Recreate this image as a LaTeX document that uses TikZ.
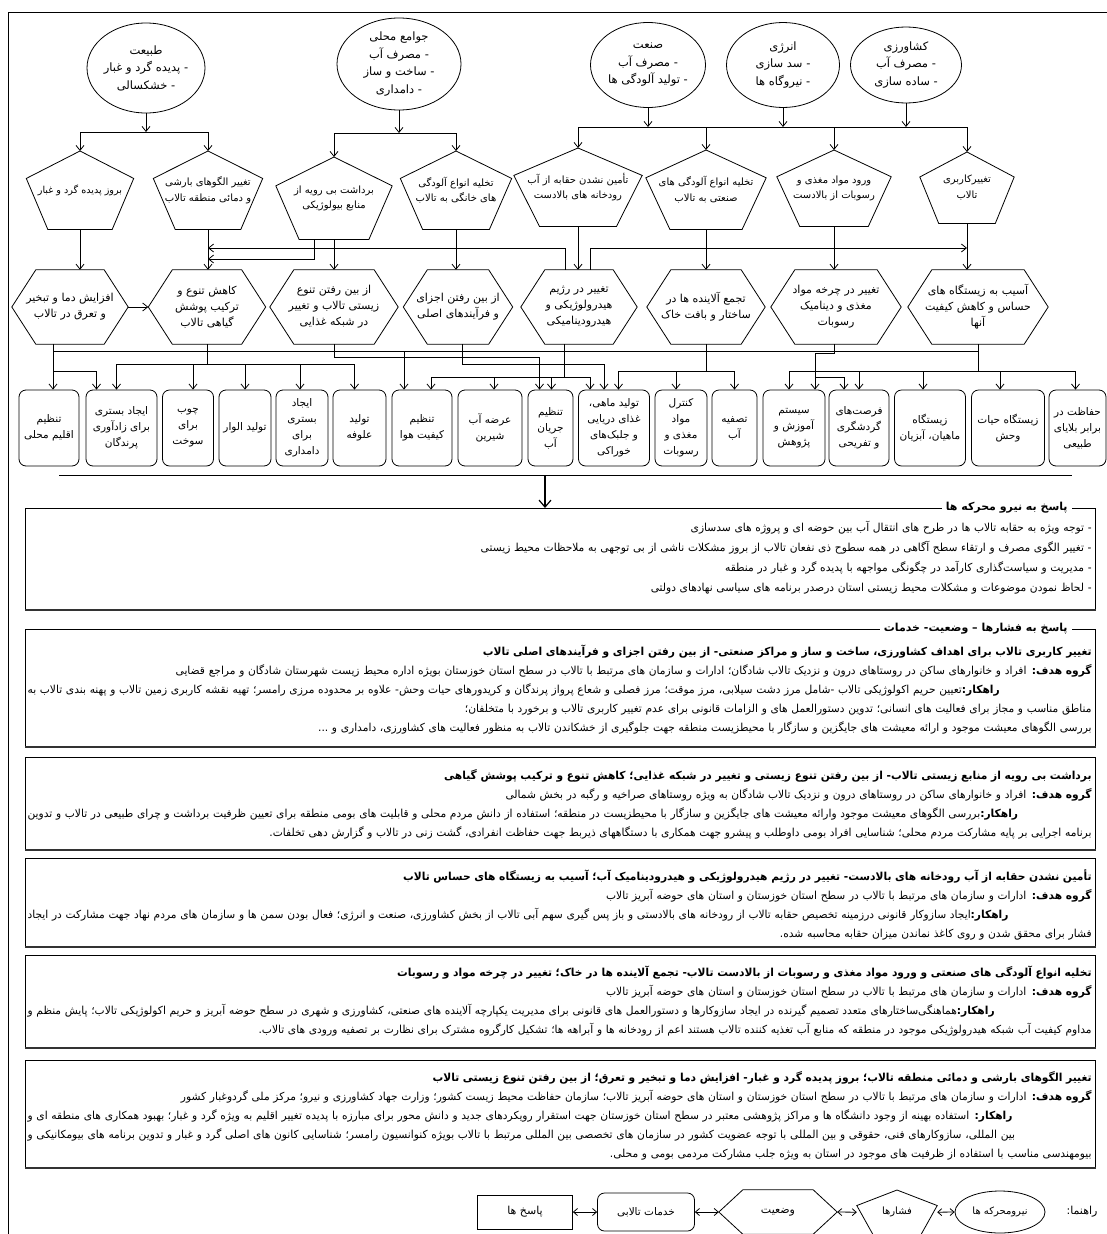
\documentclass[tikz,border=0pt]{standalone}
\usepackage{fontspec}
\usetikzlibrary{shapes.geometric,arrows.meta,calc}
\newfontfamily\fa[Script=Arabic]{DejaVu Sans}
\newfontfamily\fab[Script=Arabic,FakeStretch=0.97]{DejaVu Sans}
\TeXXeTstate=1

\newcommand\rl[1]{\beginR #1\endR}
\newcommand\fl[1]{\leavevmode\hbox to \linewidth{\beginR #1\endR}}

% pentagon: name, x, top y, width, height, text
\newcommand\penta[6]{%
  \node[polytext, pentext, anchor=north, minimum width=#4, minimum height=#5] (#1) at (#2,#3) {#6};
  \draw[shapeline] (#1.north) -- ($(#1.north west)!0.35!(#1.south west)$) -- ($(#1.south west)!0.2!(#1.south east)$)
    -- ($(#1.south east)!0.2!(#1.south west)$) -- ($(#1.north east)!0.35!(#1.south east)$) -- cycle;}
% hexagon: name, x, y, width, height, text
\newcommand\hexa[6]{%
  \node[polytext, minimum width=#4, minimum height=#5] (#1) at (#2,#3) {#6};
  \draw[shapeline] (#1.west) -- ([xshift=24pt]#1.north west) -- ([xshift=-24pt]#1.north east) -- (#1.east)
    -- ([xshift=-24pt]#1.south east) -- ([xshift=24pt]#1.south west) -- cycle;}

\tikzset{
  every node/.style={font=\fa\fontsize{11}{16}\selectfont},
  link/.style={line width=0.8pt},
  shapeline/.style={draw, line width=0.8pt},
  polytext/.style={inner sep=0pt, align=center},
  pentext/.style={font=\fa\fontsize{10}{15.5}\selectfont},
  ell/.style={draw, ellipse, line width=0.8pt, inner sep=0pt},
  elltext/.style={inner sep=0pt, align=center, font=\fa\fontsize{11.5}{17.5}\selectfont},
  svc/.style={draw, line width=0.8pt, rounded corners=7pt, minimum height=76, inner sep=1pt, align=center,
    font=\fa\fontsize{10.5}{16}\selectfont},
  arr/.style={line width=0.8pt, -{Straight Barb[length=5pt,width=8pt]}},
  dblarr/.style={line width=0.8pt, {Straight Barb[length=4pt,width=7pt]}-{Straight Barb[length=4pt,width=7pt]}},
  bigarr/.style={line width=1.8pt, -{Straight Barb[length=7pt,width=12pt,line width=1.2pt]}},
  resp/.style={draw, line width=0.8pt, anchor=north west, minimum width=1070, inner sep=0pt},
  shadowline/.style={line width=1.8pt, black!80},
  resptitle/.style={fill=white, inner xsep=4pt, inner ysep=1pt, anchor=east, font=\fa\bfseries\fontsize{11}{12}\selectfont},
  body/.style={anchor=north east, inner sep=0pt, text width=1064, align=right, font=\fab\fontsize{11}{19}\selectfont}
}

\begin{document}
\begin{tikzpicture}[x=1pt, y=-1pt]
\useasboundingbox (0,0) rectangle (1107,1234);
\draw[link] (8,1234) -- (8,12) -- (1107,12);

% driving forces
\node[ell, minimum width=118, minimum height=90] (e1) at (146,68) {};
\node[elltext] (e1t) at (e1.center) {\rl{طبیعت}\\\rl{- پدیده گرد و غبار}\\\rl{- خشکسالی}};
\node[ell, minimum width=124, minimum height=92] (e2) at (399,64) {};
\node[elltext] (e2t) at (e2.center) {\rl{جوامع محلی}\\\rl{- مصرف آب}\\\rl{- ساخت و ساز}\\\rl{- دامداری}};
\node[ell, minimum width=115, minimum height=85] (e3) at (648,65) {};
\node[elltext] (e3t) at (e3.center) {\rl{صنعت}\\\rl{- مصرف آب}\\\rl{- تولید آلودگی ها}};
\node[ell, minimum width=113, minimum height=85] (e4) at (783,65) {};
\node[elltext] (e4t) at (e4.center) {\rl{انرژی}\\\rl{- سد سازی}\\\rl{- نیروگاه ها}};
\node[ell, minimum width=111, minimum height=76] (e5) at (906,65) {};
\node[elltext] (e5t) at (e5.center) {\rl{کشاورزی}\\\rl{- مصرف آب}\\\rl{- ساده سازی}};

% pressures
\penta{p1}{80}{151}{107}{78}{\fontsize{9.6}{15}\selectfont\rl{بروز پدیده گرد و غبار}}
\penta{p2}{208}{151}{109}{78}{\rl{تغییر الگوهای بارشی}\\\rl{و دمائی منطقه تالاب}}
\penta{p3}{334}{157}{116}{82}{\rl{برداشت بی رویه از}\\\rl{منابع بیولوژیکی}}
\penta{p4}{456}{151}{111}{78}{\rl{تخلیه انواع آلودگی}\\\rl{های خانگی به تالاب}}
\penta{p5}{578}{148}{128}{78}{\rl{تأمین نشدن حقابه از آب}\\\rl{رودخانه های بالادست}}
\penta{p6}{706}{150}{120}{79}{\rl{تخلیه انواع آلودگی های}\\\rl{صنعتی به تالاب}}
\penta{p7}{834}{150}{114}{76}{\rl{ورود مواد مغذی و}\\\rl{رسوبات از بالادست}}
\penta{p8}{967}{152}{94}{71}{\rl{تغییرکاربری}\\\rl{تالاب}}

% states
\hexa{h1}{70}{307}{116}{74}{\rl{افزایش دما و تبخیر}\\\rl{و تعرق در تالاب}}
\hexa{h2}{207}{307}{117}{74}{\rl{کاهش تنوع و}\\\rl{ترکیب پوشش}\\\rl{گیاهی تالاب}}
\hexa{h3}{334}{307}{128}{74}{\rl{از بین رفتن تنوع}\\\rl{زیستی تالاب و تغییر}\\\rl{در شبکه غذایی}}
\hexa{h4}{458}{307}{109}{74}{\rl{از بین رفتن اجزای}\\\rl{و فرآیندهای اصلی}}
\hexa{h5}{579}{307}{116}{74}{\rl{تغییر در رژیم}\\\rl{هیدرولوژیکی و}\\\rl{هیدرودینامیکی}}
\hexa{h6}{706}{307}{118}{74}{\rl{تجمع آلاینده ها در}\\\rl{ساختار و بافت خاک}}
\hexa{h7}{836}{307}{130}{74}{\rl{تغییر در چرخه مواد}\\\rl{مغذی و دینامیک}\\\rl{رسوبات}}
\hexa{h8}{978}{307}{140}{74}{\rl{آسیب به زیستگاه های}\\\rl{حساس و کاهش کیفیت}\\\rl{آنها}}

% services
\node[svc, minimum width=60] (s1) at (49,428) {\rl{تنظیم}\\\rl{اقلیم محلی}};
\node[svc, minimum width=71] (s2) at (121.5,428) {\rl{ایجاد بستری}\\\rl{برای زادآوری}\\\rl{پرندگان}};
\node[svc, minimum width=51] (s3) at (188,428) {\rl{چوب}\\\rl{برای}\\\rl{سوخت}};
\node[svc, minimum width=52] (s4) at (245,428) {\rl{تولید الوار}};
\node[svc, minimum width=52] (s5) at (302,428) {\rl{ایجاد}\\\rl{بستری}\\\rl{برای}\\\rl{دامداری}};
\node[svc, minimum width=53] (s6) at (359.5,428) {\rl{تولید}\\\rl{علوفه}};
\node[svc, minimum width=60] (s7) at (422,428) {\rl{تنظیم}\\\rl{کیفیت هوا}};
\node[svc, minimum width=64] (s8) at (490,428) {\rl{عرضه آب}\\\rl{شیرین}};
\node[svc, minimum width=45] (s9) at (550.5,428) {\rl{تنظیم}\\\rl{جریان}\\\rl{آب}};
\node[svc, minimum width=71] (s10) at (614,428) {\rl{تولید ماهی،}\\\rl{غذای دریایی}\\\rl{و جلبک‌های}\\\rl{خوراکی}};
\node[svc, minimum width=52] (s11) at (681,428) {\rl{کنترل}\\\rl{مواد}\\\rl{مغذی و}\\\rl{رسوبات}};
\node[svc, minimum width=45] (s12) at (734.5,428) {\rl{تصفیه}\\\rl{آب}};
\node[svc, minimum width=62] (s13) at (794,428) {\rl{سیستم}\\\rl{آموزش و}\\\rl{پژوهش}};
\node[svc, minimum width=60] (s14) at (859,428) {\rl{فرصت‌های}\\\rl{گردشگری}\\\rl{و تفریحی}};
\node[svc, minimum width=71] (s15) at (930,428) {\rl{زیستگاه}\\\rl{ماهیان، آبزیان}};
\node[svc, minimum width=73] (s16) at (1008,428) {\rl{زیستگاه حیات}\\\rl{وحش}};
\node[svc, minimum width=57] (s17) at (1077.5,428) {\rl{حفاظت در}\\\rl{برابر بلایای}\\\rl{طبیعی}};

% levels of the connector lines
\coordinate (busA) at (0,132);
\coordinate (busB) at (0,133);
\coordinate (busC) at (0,127);
\coordinate (levP) at (0,248);
\coordinate (levQ) at (0,259);
\coordinate (lvA) at (0,351);
\coordinate (lvF) at (0,353);
\coordinate (lvB) at (0,357);
\coordinate (lvC) at (0,364);
\coordinate (lvD) at (0,371);
\coordinate (lvE) at (0,377);

% driving forces -> pressures
\draw[arr] (e1.south) -- (e1.south |- busA);
\draw[link] (p1.north |- busA) -- (p2.north |- busA);
\foreach \p in {p1,p2} \draw[arr] (\p.north |- busA) -- (\p.north);
\draw[arr] (e2.south) -- (e2.south |- busB);
\draw[link] (p3.north |- busB) -- (p4.north |- busB);
\foreach \p in {p3,p4} \draw[arr] (\p.north |- busB) -- (\p.north);
\foreach \e in {e3,e4,e5} \draw[arr] (\e.south) -- (\e.south |- busC);
\draw[link] (p5.north |- busC) -- (p8.north |- busC);
\foreach \p in {p5,p6,p7,p8} \draw[arr] (\p.north |- busC) -- (\p.north);

% pressures -> states
\foreach \p/\h in {p1/h1, p2/h2, p3/h3, p4/h4, p5/h5, p6/h6, p7/h7, p8/h8}
  \draw[arr] (\p.south) -- (\p.south |- \h.north);
\draw[arr] ([xshift=-20pt]p3.south) |- (p2.south |- levQ);
\draw[arr] ([xshift=-14pt]h5.north) |- (p2.south |- levP);
\draw[arr] ([xshift=11pt]h5.north) |- (p8.south |- levP);
\draw[arr] (h1.east) -- (h2.west);

% states -> services
\draw[arr] ([xshift=-17pt]h1.south) -- ([xshift=-17pt]h1.south |- s1.north);
\draw[arr] ([xshift=-17pt]h1.south |- lvD) -| ([xshift=-25pt]s2.north);
\draw[link] ([xshift=-17pt]h1.south |- lvA) -- (h8.south |- lvA);
\draw[arr] ([xshift=-18pt]s7.north |- lvA) -- ([xshift=-18pt]s7.north);

\draw[link] (h2.south) -- (h2.south |- lvC);
\draw[link] ([xshift=-5pt]s2.north |- lvC) -- ([xshift=-5pt]s6.north |- lvC);
\foreach \s/\dx in {s2/-5, s3/5, s4/0, s5/-2, s6/-5}
  \draw[arr] ([xshift=\dx pt]\s.north |- lvC) -- ([xshift=\dx pt]\s.north);

\draw[arr] (h3.south) |- ([xshift=-11pt]s9.north |- lvB) -- ([xshift=-11pt]s9.north);
\draw[arr] ([xshift=4pt]h4.south) |- ([xshift=-10pt]s10.north |- lvC) -- ([xshift=-10pt]s10.north);

\draw[link] ([xshift=-15pt]h5.south) -- ([xshift=-15pt]h5.south |- lvE);
\draw[link] ([xshift=9pt]s7.north |- lvE) -- ([xshift=-24pt]s10.north |- lvE);
\foreach \s/\dx in {s7/9, s8/4, s9/1, s10/-24}
  \draw[arr] ([xshift=\dx pt]\s.north |- lvE) -- ([xshift=\dx pt]\s.north);

\draw[link] (h6.south) -- (h6.south |- lvD);
\draw[link] ([xshift=4.5pt]s10.north |- lvD) -- (s12.north |- lvD);
\foreach \s/\dx in {s10/4.5, s11/-5, s12/0}
  \draw[arr] ([xshift=\dx pt]\s.north |- lvD) -- ([xshift=\dx pt]\s.north);

\draw[arr] ([xshift=-2pt]h7.south) |- ([xshift=21pt]s13.north |- lvF) -- ([xshift=21pt]s13.north);
\draw[arr] ([xshift=21pt]s13.north |- lvE) -| ([xshift=-15pt]s14.north);

\draw[link] (h8.south) -- (h8.south |- lvD);
\draw[link] ([xshift=-5pt]s13.north |- lvD) -- ([xshift=-2pt]s17.north |- lvD);
\foreach \s/\dx in {s13/-5, s14/0, s15/-7, s16/-8, s17/-2}
  \draw[arr] ([xshift=\dx pt]\s.north |- lvD) -- ([xshift=\dx pt]\s.north);

% responses
\coordinate (baseL) at (59,475);
\coordinate (baseR) at (1072,475);
\coordinate (baseM) at (545,475);
\draw[link] (baseL) -- (baseR);

\node[resp, minimum height=101] (r1) at (25,508) {};
\draw[shadowline] (r1.south west) -- (r1.south east);
\draw[bigarr] (baseM) -- (baseM |- r1.north);
\node[resptitle] (r1h) at ([xshift=-24pt]r1.north east) {\rl{پاسخ به نیرو محرکه ها}};
\node[body, font=\fab\fontsize{11}{20}\selectfont] (r1t) at ([xshift=-4pt,yshift=-13pt]r1.north east) {%
\rl{- توجه ویژه به حقابه تالاب ها در طرح های انتقال آب بین حوضه ای و پروژه های سدسازی}\\
\rl{- تغییر الگوی مصرف و ارتقاء سطح آگاهی در همه سطوح ذی نفعان تالاب  از بروز مشکلات ناشی از بی توجهی به ملاحظات محیط زیستی}\\
\rl{- مدیریت و سیاست‌گذاری کارآمد در چگونگی مواجهه با پدیده گرد و غبار در منطقه}\\
\rl{- لحاظ نمودن موضوعات و مشکلات محیط زیستی استان درصدر برنامه های سیاسی نهادهای دولتی}};

\node[resp, minimum height=117] (r2) at (25,629) {};
\draw[shadowline] (r2.south west) -- (r2.south east);
\node[resptitle] (r2h) at ([xshift=-24pt]r2.north east) {\rl{پاسخ به فشارها – وضعیت- خدمات}};
\node[body] (r2t) at ([xshift=-4pt,yshift=-16pt]r2.north east) {%
\rl{\textbf{تغییر کاربری تالاب برای اهداف کشاورزی، ساخت و ساز و مراکز صنعتی- از بین رفتن  اجزای و فرآیندهای اصلی تالاب}}\\
\rl{\textbf{گروه هدف:} افراد و خانوارهای ساکن در روستاهای درون و نزدیک تالاب شادگان؛ ادارات و سازمان های مرتبط با تالاب در سطح استان خوزستان بویژه اداره محیط زیست شهرستان شادگان و مراجع قضایی}\\
\fl{\textbf{راهکار:}تعیین حریم اکولوژیکی تالاب -شامل مرز دشت سیلابی، مرز موقت؛ مرز فصلی و شعاع پرواز پرندگان و کریدورهای حیات وحش- علاوه بر محدوده مرزی رامسر؛ تهیه نقشه کاربری زمین تالاب و پهنه بندی تالاب به}\\
\rl{مناطق مناسب و مجاز برای فعالیت های انسانی؛ تدوین دستورالعمل های و الزامات قانونی برای عدم تغییر کاربری تالاب و برخورد با متخلفان؛}\\
\rl{بررسی الگوهای معیشت موجود و ارائه معیشت های جایگزین و سازگار با محیطزیست منطقه جهت جلوگیری از خشکاندن تالاب به منظور فعالیت های کشاورزی، دامداری و ...}};

\node[resp, minimum height=92] (r3) at (25,757) {};
\draw[shadowline] (r3.south west) -- (r3.south east);
\node[body] (r3t) at ([xshift=-4pt,yshift=-12pt]r3.north east) {%
\rl{\textbf{برداشت بی رویه از منابع زیستی تالاب- از بین رفتن تنوع زیستی و تغییر در شبکه غذایی؛ کاهش تنوع و ترکیب پوشش گیاهی}}\\
\rl{\textbf{گروه هدف:} افراد و خانوارهای ساکن در روستاهای درون و نزدیک تالاب شادگان به ویژه روستاهای صراخیه و رگبه در بخش شمالی}\\
\fl{\textbf{راهکار:}بررسی الگوهای معیشت موجود وارائه معیشت های جایگزین و سازگار با محیطزیست در منطقه؛ استفاده از دانش مردم محلی و قابلیت های بومی منطقه برای تعیین ظرفیت برداشت و چرای طبیعی در تالاب و تدوین}\\
\rl{برنامه اجرایی بر پایه مشارکت مردم محلی؛ شناسایی افراد بومی داوطلب و پیشرو جهت همکاری با دستگاههای ذیربط جهت حفاظت انفرادی، گشت زنی در تالاب و گزارش دهی تخلفات.}};

\node[resp, minimum height=88] (r4) at (25,858) {};
\draw[shadowline] (r4.south west) -- (r4.south east);
\node[body] (r4t) at ([xshift=-4pt,yshift=-11pt]r4.north east) {%
\rl{\textbf{تأمین نشدن حقابه از آب رودخانه های بالادست- تغییر در رژیم هیدرولوژیکی و هیدرودینامیک آب؛ آسیب به زیستگاه های حساس تالاب}}\\
\rl{\textbf{گروه هدف:} ادارات و سازمان های مرتبط با تالاب در سطح استان خوزستان و استان های حوضه آبریز تالاب}\\
\fl{\textbf{راهکار:}ایجاد سازوکار قانونی درزمینه  تخصیص حقابه تالاب از رودخانه های بالادستی و باز پس گیری سهم آبی تالاب از بخش کشاورزی، صنعت و انرژی؛ فعال بودن سمن ها و سازمان های مردم نهاد جهت مشارکت در ایجاد}\\
\rl{فشار برای محقق شدن و روی کاغذ نماندن میزان حقابه محاسبه شده.}};

\node[resp, minimum height=92] (r5) at (25,955) {};
\draw[shadowline] (r5.south west) -- (r5.south east);
\node[body] (r5t) at ([xshift=-4pt,yshift=-11pt]r5.north east) {%
\rl{\textbf{تخلیه انواع آلودگی های صنعتی و ورود مواد مغذی و رسوبات از بالادست تالاب- تجمع آلاینده ها در خاک؛ تغییر در چرخه مواد و رسوبات}}\\
\rl{\textbf{گروه هدف:} ادارات و سازمان های مرتبط با تالاب در سطح استان خوزستان و استان های حوضه آبریز تالاب}\\
\fl{\textbf{راهکار:}هماهنگی‌ساختارهای متعدد  تصمیم گیرنده در ایجاد سازوکارها و دستورالعمل های قانونی برای مدیریت یکپارچه آلاینده های صنعتی، کشاورزی و شهری در سطح حوضه آبریز و حریم اکولوژیکی تالاب؛ پایش منظم و}\\
\rl{مداوم کیفیت آب شبکه هیدرولوژیکی موجود در منطقه که منابع آب تغذیه کننده تالاب هستند اعم از رودخانه ها و آبراهه ها؛ تشکیل کارگروه مشترک برای نظارت بر تصفیه ورودی های تالاب.}};

\node[resp, minimum height=107] (r6) at (25,1060) {};
\draw[shadowline] (r6.south west) -- (r6.south east);
\node[body] (r6t) at ([xshift=-4pt,yshift=-11pt]r6.north east) {%
\rl{\textbf{تغییر الگوهای بارشی و دمائی منطقه تالاب؛ بروز پدیده گرد و غبار- افزایش دما و تبخیر و تعرق؛ از بین رفتن تنوع زیستی تالاب}}\\
\rl{\textbf{گروه هدف:} ادارات و سازمان های مرتبط با تالاب در سطح استان خوزستان و استان های حوضه آبریز تالاب؛ سازمان حفاظت محیط زیست کشور؛ وزارت جهاد کشاورزی و نیرو؛ مرکز ملی گردوغبار کشور}\\
\fl{\textbf{راهکار:} استفاده بهینه از وجود دانشگاه ها و مراکز پژوهشی معتبر در سطح استان خوزستان جهت استقرار رویکردهای جدید و دانش محور برای مبارزه با پدیده تغییر اقلیم به ویژه گرد و غبار؛ بهبود همکاری های منطقه ای و}\\
\fl{بین المللی، سازوکارهای فنی، حقوقی و بین المللی با توجه عضویت کشور در سازمان های تخصصی بین المللی مرتبط با تالاب بویژه کنوانسیون رامسر؛ شناسایی کانون های اصلی گرد و غبار و تدوین برنامه های  بیومکانیکی و}\\
\rl{بیومهندسی مناسب با استفاده از ظرفیت های موجود در استان به ویژه جلب مشارکت مردمی بومی و محلی.}};

% key
\node[anchor=east] (lg) at (1101,1212) {\rl{راهنما:}};
\node[ell, minimum width=90, minimum height=42] (l1) at (1000,1212) {};
\node[polytext, font=\fa\fontsize{10}{12}\selectfont] (l1t) at (l1.center) {\rl{نیرومحرکه ها}};
\penta{l2}{897}{1190}{80}{44}{\rl{فشارها}}
\hexa{l3}{778}{1212}{118}{44}{\rl{وضعیت}}
\node[svc, minimum width=97, minimum height=38] (l4) at (646,1212) {\rl{خدمات تالابی}};
\node[draw, link, minimum width=95, minimum height=34] (l5) at (525,1212) {\rl{پاسخ ها}};
\draw[dblarr] (l1.west) -- (l2.east);
\draw[dblarr] (l2.west) -- (l3.east);
\draw[dblarr] (l3.west) -- (l4.east);
\draw[dblarr] (l4.west) -- (l5.east);
\end{tikzpicture}
\end{document}
